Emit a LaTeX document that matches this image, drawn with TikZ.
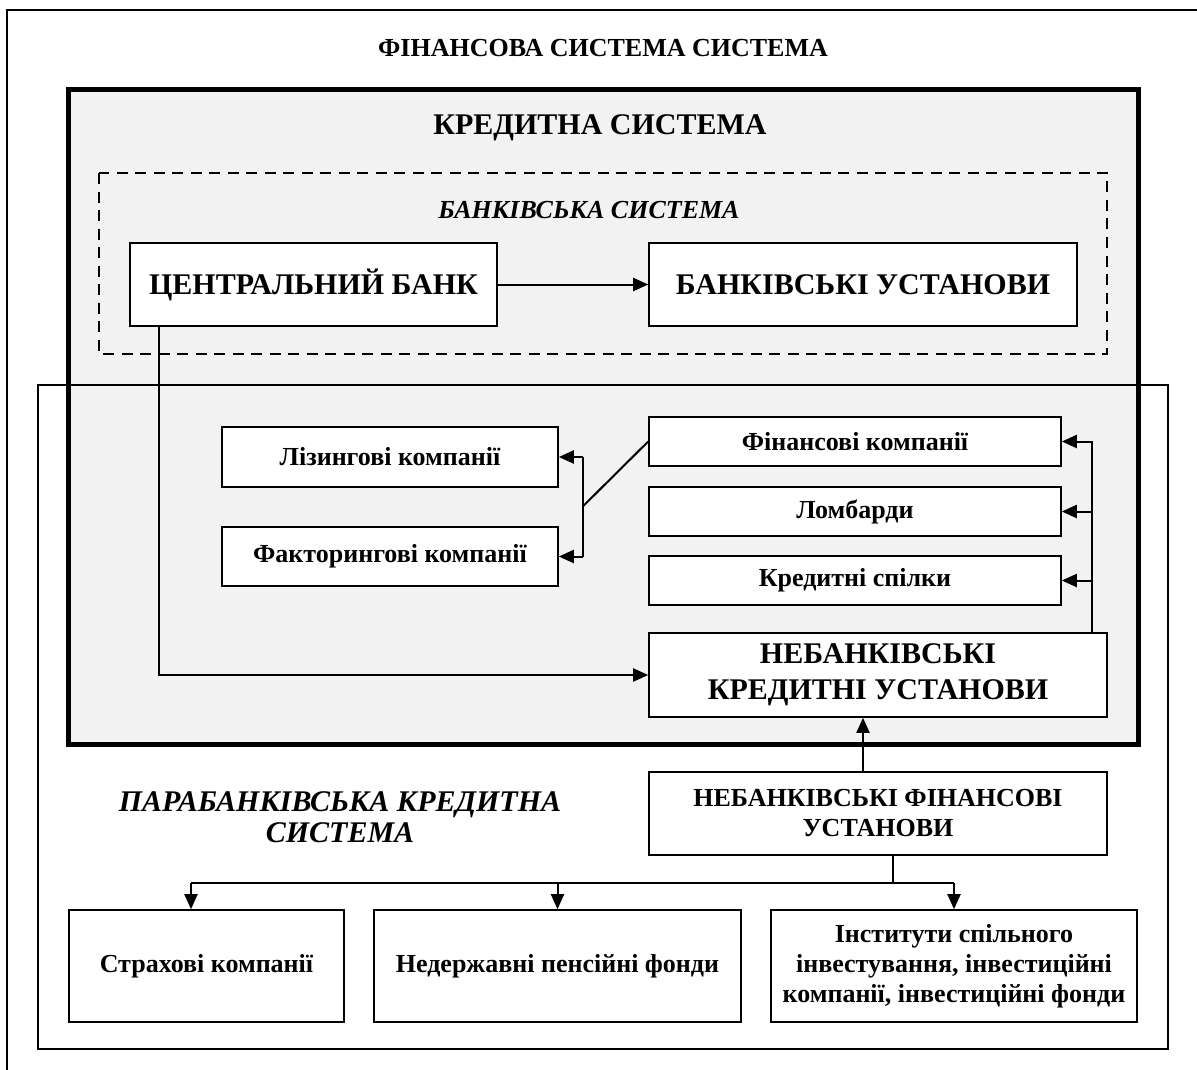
\documentclass[tikz,border=0pt]{standalone}
\usepackage{fontspec}
\setmainfont{Liberation Serif}
\usetikzlibrary{arrows.meta,calc}
\definecolor{bg}{HTML}{F2F2F2}
\newcommand{\fsz}[2]{\fontsize{#1}{#2}\selectfont}
\begin{document}
\begin{tikzpicture}[x=1pt,y=-1pt,
  box/.style={draw, fill=white, line width=1.6pt, inner sep=0pt, align=center, font=\bfseries},
  conn/.style={line width=2pt},
  arr/.style={conn, -{Triangle[length=15pt,width=13pt]}},
  lbl/.style={inner sep=0pt, align=center}]
\useasboundingbox (0,0) rectangle (1197,1070);
% outer frame (only top and left visible)
\begin{scope}
\clip (0,0) rectangle (1197,1070);
\draw[line width=2.4pt] (7,10) rectangle (1210,1085);
\end{scope}
\node[lbl, font=\fsz{26}{30}\bfseries] (ttl) at (603,48) {ФІНАНСОВА СИСТЕМА СИСТЕМА};
% credit system fill
\fill[bg] (68,90) rectangle (1138,744);
% parabank frame
\draw[line width=2.4pt] (38,385) rectangle (1168,1049);
% credit system border
\draw[line width=5pt, line join=miter] (68,90) rectangle (1138,744);
\node[lbl, font=\fsz{30}{36}\bfseries] (kst) at (600,128) {КРЕДИТНА СИСТЕМА};
% banking system dashed
\draw[line width=2.4pt, dash pattern=on 11pt off 7.5pt] (99,173) rectangle (1107,354);
\node[lbl, font=\fsz{26}{30}\bfseries\itshape] (bst) at (589,210) {БАНКІВСЬКА СИСТЕМА};
% boxes
\node[box, font=\fsz{30}{36}\bfseries, minimum width=367pt, minimum height=83pt] (cb) at (313.5,284.5) {ЦЕНТРАЛЬНИЙ БАНК};
\node[box, font=\fsz{30}{36}\bfseries, minimum width=428pt, minimum height=83pt] (bu) at (863,284.5) {БАНКІВСЬКІ УСТАНОВИ};
\node[box, font=\fsz{26}{30}\bfseries, minimum width=336pt, minimum height=60pt] (lease) at (390,457) {Лізингові компанії};
\node[box, font=\fsz{26}{30}\bfseries, minimum width=336pt, minimum height=59pt] (fact) at (390,556.5) {Факторингові компанії};
\node[box, font=\fsz{26}{30}\bfseries, minimum width=412pt, minimum height=49pt] (fin) at (855,441.5) {Фінансові компанії};
\node[box, font=\fsz{26}{30}\bfseries, minimum width=412pt, minimum height=49pt] (lomb) at (855,511.5) {Ломбарди};
\node[box, font=\fsz{26}{30}\bfseries, minimum width=412pt, minimum height=49pt] (ks) at (855,580.5) {Кредитні спілки};
\node[box, font=\fsz{30}{36}\bfseries, minimum width=458pt, minimum height=84pt] (nku) at (878,675) {НЕБАНКІВСЬКІ\\КРЕДИТНІ УСТАНОВИ};
\node[box, font=\fsz{26}{30}\bfseries, minimum width=458pt, minimum height=83pt] (nfu) at (878,813.5) {НЕБАНКІВСЬКІ ФІНАНСОВІ\\УСТАНОВИ};
\node[lbl, font=\fsz{30}{31}\bfseries\itshape] (pbs) at (340,817) {ПАРАБАНКІВСЬКА КРЕДИТНА\\СИСТЕМА};
\node[box, font=\fsz{26}{30}\bfseries, minimum width=275pt, minimum height=112pt] (sk) at (206.5,966) {Страхові компанії};
\node[box, font=\fsz{26}{30}\bfseries, minimum width=367pt, minimum height=112pt] (np) at (557.5,966) {Недержавні пенсійні фонди};
\node[box, font=\fsz{26}{30}\bfseries, minimum width=366pt, minimum height=112pt] (isi) at (954,966) {Інститути спільного\\інвестування, інвестиційні\\компанії, інвестиційні фонди};
% connectors
\draw[arr] (cb.east) -- (bu.west);
\draw[arr] ([xshift=30pt]cb.south west) |- (nku.west);
\coordinate (rv) at (1092,0);
\draw[arr] (nku.north -| rv) |- (fin.east);
\draw[arr] (lomb.east -| rv) -- (lomb.east);
\draw[arr] (ks.east -| rv) -- (ks.east);
\coordinate (lb) at (582.5,0);
\draw[arr] (lease.east -| lb) -- (lease.east);
\draw[arr] (fact.east -| lb) -- (fact.east);
\draw[conn] (lease.east -| lb) -- (fact.east -| lb);
\draw[conn] ($(lease.east -| lb)!0.5!(fact.east -| lb)$) -- (fin.west);
\draw[arr] ([xshift=-15pt]nfu.north) -- ([xshift=-15pt]nku.south);
\coordinate (hb) at (0,883);
\draw[line width=1.2pt] ([xshift=15pt]nfu.south) -- ([xshift=15pt]nfu.south |- hb);
\draw[conn] ([xshift=-15.5pt]sk.north |- hb) -- (isi.north |- hb);
\draw[arr] ([xshift=-15.5pt]sk.north |- hb) -- ([xshift=-15.5pt]sk.north);
\draw[arr] (np.north |- hb) -- (np.north);
\draw[arr] (isi.north |- hb) -- (isi.north);
\end{tikzpicture}
\end{document}
